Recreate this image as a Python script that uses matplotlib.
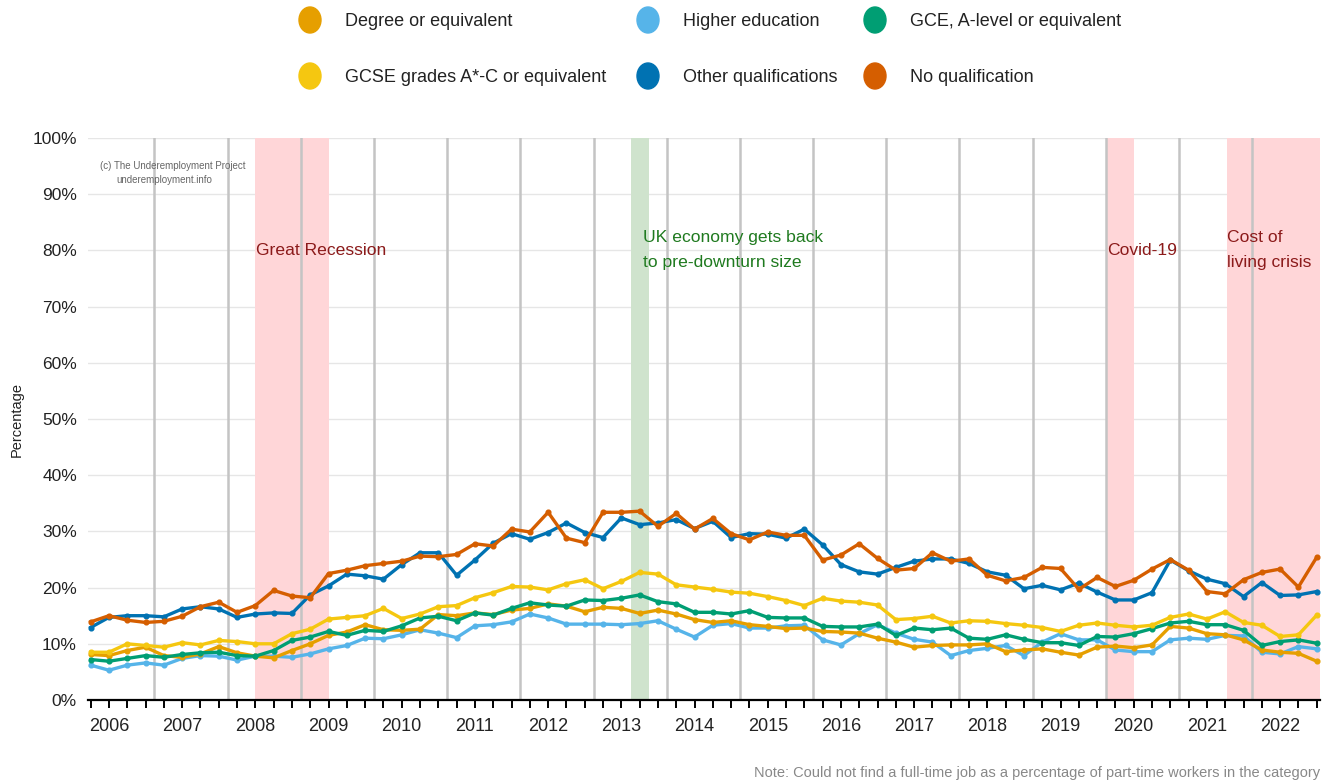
import matplotlib
matplotlib.use("Agg")
import matplotlib.pyplot as plt
from matplotlib.patches import Ellipse
import numpy as np

plt.rcParams['font.family'] = ['Liberation Sans', 'DejaVu Sans']

# Quarterly observations starting 2005 Q4
start_year = 2005.75
quarter = 0.25

degree = [8.1, 7.9, 8.8, 9.4, 7.9, 7.6, 8.2, 9.5, 8.4, 7.8, 7.5, 8.8,
          10.0, 11.5, 12.1, 13.4, 12.5, 12.4, 12.6, 15.2, 15.0, 15.5, 15.2, 16.0,
          16.3, 17.1, 16.7, 15.7, 16.5, 16.3, 15.4, 16.0, 15.3, 14.3, 13.8,
          14.1, 13.4, 13.1, 12.7, 12.8, 12.2, 12.1, 11.9, 11.0, 10.3, 9.4,
          9.7, 9.8, 9.8, 10.0, 8.6, 8.9, 9.1, 8.5, 8.0, 9.4, 9.6,
          9.3, 9.8, 13.1, 12.8, 11.8, 11.6, 10.7, 8.9, 8.5, 8.3, 6.9]

higher_ed = [6.2, 5.3, 6.2, 6.6, 6.2, 7.4, 7.9, 7.8, 7.1, 7.8, 7.8, 7.6,
             8.2, 9.1, 9.7, 11.0, 10.9, 11.6, 12.5, 11.9, 11.1, 13.2, 13.4, 13.9,
             15.3, 14.6, 13.5, 13.5, 13.5, 13.4, 13.6, 14.1, 12.6, 11.2, 13.3,
             13.6, 12.8, 12.8, 13.2, 13.3, 10.7, 9.8, 11.8, 13.4, 11.9, 10.8,
             10.3, 7.9, 8.8, 9.2, 9.7, 7.9, 10.3, 11.8, 10.7, 10.7, 8.9,
             8.6, 8.6, 10.7, 11.0, 10.8, 11.5, 11.4, 8.5, 8.2, 9.5, 9.1]

gce = [7.2, 6.9, 7.4, 7.9, 7.6, 8.1, 8.4, 8.5, 7.9, 7.8, 8.8, 10.6,
       11.2, 12.2, 11.5, 12.4, 12.2, 13.2, 14.6, 14.9, 14.1, 15.5, 15.1, 16.3,
       17.3, 16.9, 16.7, 17.8, 17.7, 18.1, 18.7, 17.5, 17.1, 15.6, 15.6,
       15.3, 15.9, 14.7, 14.6, 14.6, 13.1, 13.0, 13.0, 13.5, 11.5, 12.8,
       12.5, 12.8, 11.0, 10.8, 11.6, 10.8, 10.2, 10.2, 9.7, 11.3, 11.2,
       11.8, 12.7, 13.7, 14.0, 13.4, 13.4, 12.4, 9.7, 10.4, 10.7, 10.1]

gcse = [8.5, 8.5, 10.0, 9.7, 9.4, 10.2, 9.8, 10.6, 10.4, 10.0, 10.0, 11.8,
        12.6, 14.4, 14.7, 15.0, 16.3, 14.5, 15.3, 16.6, 16.8, 18.2, 19.1, 20.2,
        20.1, 19.6, 20.7, 21.4, 19.8, 21.1, 22.7, 22.4, 20.5, 20.1, 19.7,
        19.2, 19.0, 18.4, 17.7, 16.8, 18.1, 17.6, 17.4, 16.9, 14.3, 14.5,
        14.9, 13.7, 14.1, 14.0, 13.6, 13.3, 12.9, 12.2, 13.3, 13.7, 13.3,
        13.0, 13.3, 14.7, 15.3, 14.4, 15.7, 13.8, 13.3, 11.3, 11.6, 15.1]

other_qual = [12.9, 14.7, 15.0, 15.0, 14.8, 16.2, 16.6, 16.2, 14.7, 15.3, 15.5, 15.4,
              18.7, 20.3, 22.4, 22.1, 21.5, 24.1, 26.2, 26.2, 22.2, 24.9, 27.9, 29.6,
              28.6, 29.8, 31.5, 29.8, 28.9, 32.4, 31.2, 31.5, 32.1, 30.5, 31.8,
              28.9, 29.6, 29.5, 28.8, 30.4, 27.6, 24.1, 22.8, 22.4, 23.6, 24.7,
              25.1, 25.1, 24.3, 22.8, 22.2, 19.8, 20.4, 19.6, 20.8, 19.2, 17.8,
              17.8, 19.1, 24.9, 23.0, 21.5, 20.7, 18.4, 20.9, 18.6, 18.7, 19.3]

no_qual = [13.9, 15.0, 14.2, 13.8, 14.0, 14.9, 16.6, 17.4, 15.6, 16.8, 19.5, 18.5,
           18.2, 22.5, 23.1, 23.9, 24.3, 24.7, 25.6, 25.5, 25.9, 27.8, 27.4, 30.4,
           29.9, 33.4, 28.8, 28.0, 33.4, 33.4, 33.6, 30.9, 33.2, 30.4, 32.3,
           29.6, 28.5, 29.9, 29.3, 29.3, 24.9, 25.8, 27.8, 25.2, 23.1, 23.4,
           26.2, 24.7, 25.1, 22.2, 21.2, 21.8, 23.6, 23.4, 19.7, 21.8, 20.2,
           21.3, 23.3, 25.0, 23.1, 19.3, 18.9, 21.4, 22.7, 23.3, 20.1, 25.4]

series_names = ["Degree or equivalent", "Higher education", "GCE, A-level or equivalent",
                "GCSE grades A*-C or equivalent", "Other qualifications", "No qualification"]
series_values = [degree, higher_ed, gce, gcse, other_qual, no_qual]
series_colors = ["#E69F00", "#56B4E9", "#009E73", "#F5C710", "#0072B2", "#D55E00"]

year_labels = list(range(2006, 2023))
grey_lines = [y + 0.62 for y in range(2006, 2022)]
red_periods = [(2008.0, 2009.0, "Great Recession"),
               (2019.63, 2020.0, "Covid-19"),
               (2021.27, 2022.6, "Cost of\nliving crisis")]
green_periods = [(2013.13, 2013.38, "UK economy gets back\nto pre-downturn size")]

W, H = 1327, 783
fig = plt.figure(figsize=(W / 100, H / 100), dpi=100)
ax = fig.add_axes([88 / W, 1 - 700 / H, (1320 - 88) / W, (700 - 138) / H])

n = len(no_qual)
x = start_year + quarter * np.arange(n)

xmin, xmax = 2005.714, 2022.545
ax.set_xlim(xmin, xmax)
ax.set_ylim(0, 100)

# horizontal gridlines
for yv in range(10, 101, 10):
    ax.axhline(yv, color="#e6e6e6", lw=1.0, zorder=0)

for s, e, lab in red_periods:
    ax.axvspan(s, min(e, xmax), color="#ffd6d8", lw=0, zorder=1)
    ax.text(s + 0.01, 80, lab, color="#8b1a1a", fontsize=12.6, ha="left", va="center",
            linespacing=1.85, zorder=6)
for s, e, lab in green_periods:
    ax.axvspan(s, e, color="#cfe3cd", lw=0, zorder=1)
    ax.text(e - 0.08, 80, lab, color="#1f7a1f", fontsize=12.6, ha="left", va="center",
            linespacing=1.85, zorder=6)

for gx in grey_lines:
    ax.axvline(gx, color="#c4c4c4", lw=1.8, zorder=2)

order = [1, 0, 2, 3, 4, 5]
for i in order:
    ax.plot(x, series_values[i], color=series_colors[i], lw=2.4, marker="o",
            markersize=3.4, zorder=5)

# axes styling
for sp in ["top", "right", "left"]:
    ax.spines[sp].set_visible(False)
ax.spines["bottom"].set_color("black")
ax.spines["bottom"].set_linewidth(1.6)
ax.set_xticks(year_labels)
ax.set_xticklabels([str(y) for y in year_labels], fontsize=13, color="#222222")
ax.set_xticks(x, minor=True)
ax.tick_params(axis="x", which="both", direction="out", length=6, width=1.4,
               color="black", pad=7)
ax.set_yticks(range(0, 101, 10))
ax.set_yticklabels([f"{v}%" for v in range(0, 101, 10)], fontsize=12.5, color="#222222")
ax.tick_params(axis="y", length=0, pad=8)

fig.text(17 / W, 1 - 419 / H, "Percentage", fontsize=10.5, color="#222222",
         rotation=90, ha="center", va="center")

fig.text(100 / W, 1 - 166 / H, "(c) The Underemployment Project", fontsize=7,
         color="#666666", va="center", ha="left")
fig.text(116 / W, 1 - 180 / H, "underemployment.info", fontsize=7,
         color="#666666", va="center", ha="left")

fig.text(1320 / W, 1 - 773 / H,
         "Note: Could not find a full-time job as a percentage of part-time workers in the category",
         fontsize=10.5, color="#888888", ha="right", va="center")

# legend
leg_pos = [(310, 20), (648, 20), (875, 20), (310, 76), (648, 76), (875, 76)]
for (px, py), name, col in zip(leg_pos, series_names, series_colors):
    fig.add_artist(Ellipse((px / W, 1 - py / H), 22 / W, 26 / H, color=col,
                           transform=fig.transFigure))
    fig.text((px + 35) / W, 1 - (py + 2) / H, name, fontsize=13, color="#222222",
             ha="left", va="center")

fig.savefig("out.png", dpi=100)
